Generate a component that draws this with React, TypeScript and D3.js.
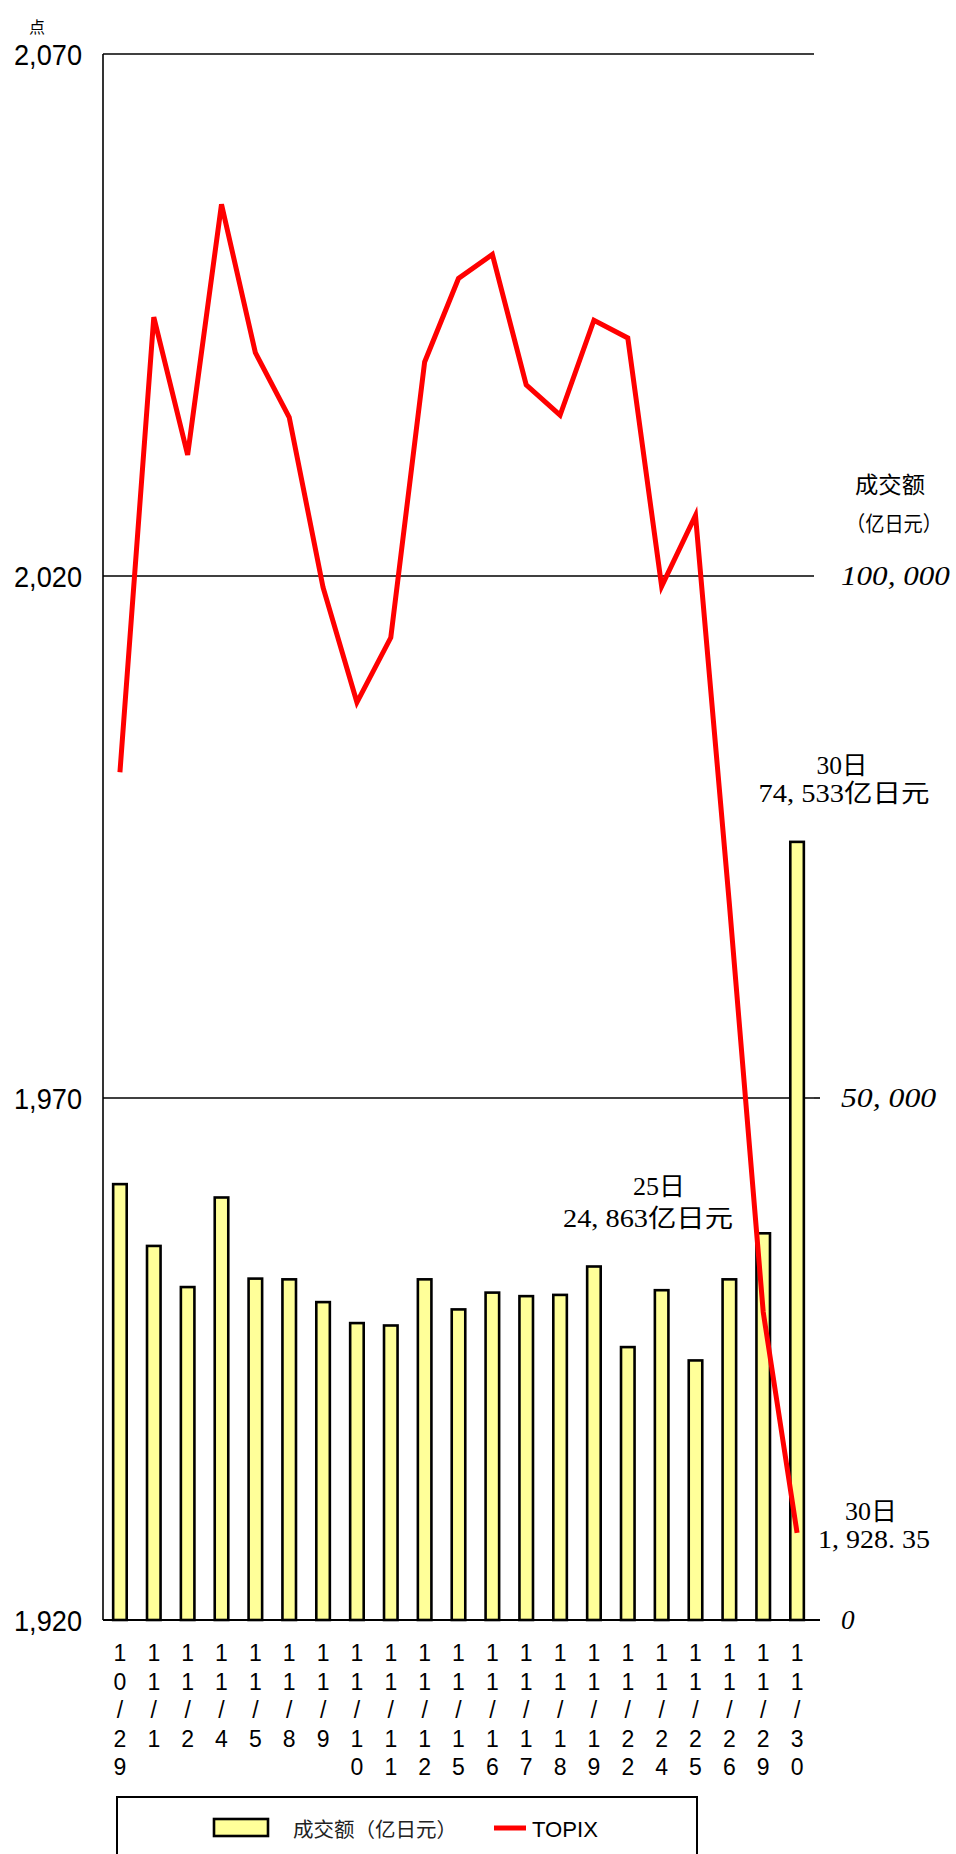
import React from "react";
import * as d3 from "d3";

const dates = ["10/29", "11/1", "11/2", "11/4", "11/5", "11/8", "11/9", "11/10", "11/11", "11/12", "11/15", "11/16", "11/17", "11/18", "11/19", "11/22", "11/24", "11/25", "11/26", "11/29", "11/30"];
const volume = [41750, 35830, 31890, 40470, 32700, 32630, 30450, 28440, 28210, 32630, 29750, 31360, 31020, 31140, 33860, 26140, 31590, 24863, 32630, 37040, 74533];
const topix = [2001.2, 2044.8, 2031.6, 2055.6, 2041.4, 2035.2, 2018.9, 2007.9, 2014.1, 2040.5, 2048.5, 2050.8, 2038.3, 2035.4, 2044.5, 2042.8, 2019.0, 2025.8, 1988.6, 1949.5, 1928.35];
const leftTicks = [1920, 1970, 2020, 2070];
const leftTickLabels = ["1,920", "1,970", "2,020", "2,070"];
const rightTicks = [0, 50000, 100000];
const rightTickLabels = ["0", "50, 000", "100, 000"];

const W = 956, H = 1854;
const L = 103, R = 814, T = 54, B = 1620;

export default function App() {
  const x = d3.scaleBand<string>().domain(dates).range([L, R]).paddingInner(0.6).paddingOuter(0.3);
  const yL = d3.scaleLinear().domain([1920, 2070]).range([B, T]);
  const yR = d3.scaleLinear().domain([0, 150000]).range([B, T]);
  const cx = (d: string) => (x(d) as number) + x.bandwidth() / 2;
  const line = d3.line<number>().x((_, i) => cx(dates[i])).y((v) => yL(v));
  const serif = "'Liberation Serif', 'Noto Sans CJK SC', serif";
  const cjk = "'Noto Sans CJK SC', sans-serif";
  const sans = "'Liberation Sans', Arial, sans-serif";

  return (
    <svg width={W} height={H} style={{ position: "absolute", left: 0, top: 0, background: "#fff" }}>
      {leftTicks.filter((t) => t !== 1920).map((t) => (
        <line key={t} x1={L} x2={R} y1={yL(t)} y2={yL(t)} stroke="#000" strokeWidth={1.6} />
      ))}
      {dates.map((d, i) => (
        <rect key={d} x={x(d)} y={yR(volume[i])} width={x.bandwidth()} height={B - yR(volume[i])}
          fill="#ffff99" stroke="#000" strokeWidth={2.6} />
      ))}
      <path d={line(topix) || ""} fill="none" stroke="#ff0000" strokeWidth={5} strokeLinejoin="miter" />
      <line x1={L} x2={L} y1={T} y2={B} stroke="#000" strokeWidth={1.6} />
      <line x1={L} x2={R + 6} y1={B} y2={B} stroke="#000" strokeWidth={2} />
      <line x1={R} x2={R + 6} y1={yR(50000)} y2={yR(50000)} stroke="#000" strokeWidth={1.6} />
      {leftTicks.map((t, i) => (
        <text key={t} x={82} y={yL(t)} textAnchor="end" dominantBaseline="central" fontFamily={sans}
          fontSize={30} textLength={68} lengthAdjust="spacingAndGlyphs">{leftTickLabels[i]}</text>
      ))}
      <text x={37} y={26} textAnchor="middle" dominantBaseline="central" fontFamily={cjk} fontSize={16}>点</text>
      {rightTicks.map((t, i) => (
        <text key={t} x={841} y={yR(t)} dominantBaseline="central" fontFamily={serif} fontStyle="italic"
          fontSize={27} textLength={rightTickLabels[i].length * 13.6} lengthAdjust="spacingAndGlyphs">{rightTickLabels[i]}</text>
      ))}
      <text x={855} y={483} dominantBaseline="central" fontFamily={cjk} fontSize={23} textLength={70} lengthAdjust="spacingAndGlyphs">成交额</text>
      <text x={846} y={522} dominantBaseline="central" fontFamily={cjk} fontSize={21} textLength={96} lengthAdjust="spacingAndGlyphs">（亿日元）</text>
      {dates.map((d) => (
        <g key={d}>
          {d.split("").map((ch, j) => (
            <text key={j} x={cx(d)} y={1653 + j * 28.5} textAnchor="middle" dominantBaseline="central"
              fontFamily={sans} fontSize={23}>{ch}</text>
          ))}
        </g>
      ))}
      <text x={842} y={765} textAnchor="middle" dominantBaseline="central" fontFamily={serif} fontSize={25} textLength={51} lengthAdjust="spacingAndGlyphs">30日</text>
      <text x={844} y={793} textAnchor="middle" dominantBaseline="central" fontFamily={serif} fontSize={25} textLength={171} lengthAdjust="spacingAndGlyphs">74, 533亿日元</text>
      <text x={659} y={1186} textAnchor="middle" dominantBaseline="central" fontFamily={serif} fontSize={25} textLength={52} lengthAdjust="spacingAndGlyphs">25日</text>
      <text x={648} y={1218} textAnchor="middle" dominantBaseline="central" fontFamily={serif} fontSize={25} textLength={170} lengthAdjust="spacingAndGlyphs">24, 863亿日元</text>
      <text x={871} y={1511} textAnchor="middle" dominantBaseline="central" fontFamily={serif} fontSize={25} textLength={52} lengthAdjust="spacingAndGlyphs">30日</text>
      <text x={874} y={1539} textAnchor="middle" dominantBaseline="central" fontFamily={serif} fontSize={25} textLength={112} lengthAdjust="spacingAndGlyphs">1, 928. 35</text>
      <rect x={117} y={1797} width={580} height={90} fill="#fff" stroke="#000" strokeWidth={2} />
      <rect x={214} y={1819} width={54} height={17} fill="#ffff99" stroke="#000" strokeWidth={2.6} />
      <text x={293} y={1828} dominantBaseline="central" fontFamily={cjk} fontSize={20} textLength={164} lengthAdjust="spacingAndGlyphs" fill="#222">成交额（亿日元）</text>
      <line x1={494} x2={526} y1={1828} y2={1828} stroke="#ff0000" strokeWidth={5} />
      <text x={532} y={1829} dominantBaseline="central" fontFamily={sans} fontSize={22} textLength={66} lengthAdjust="spacingAndGlyphs">TOPIX</text>
    </svg>
  );
}
